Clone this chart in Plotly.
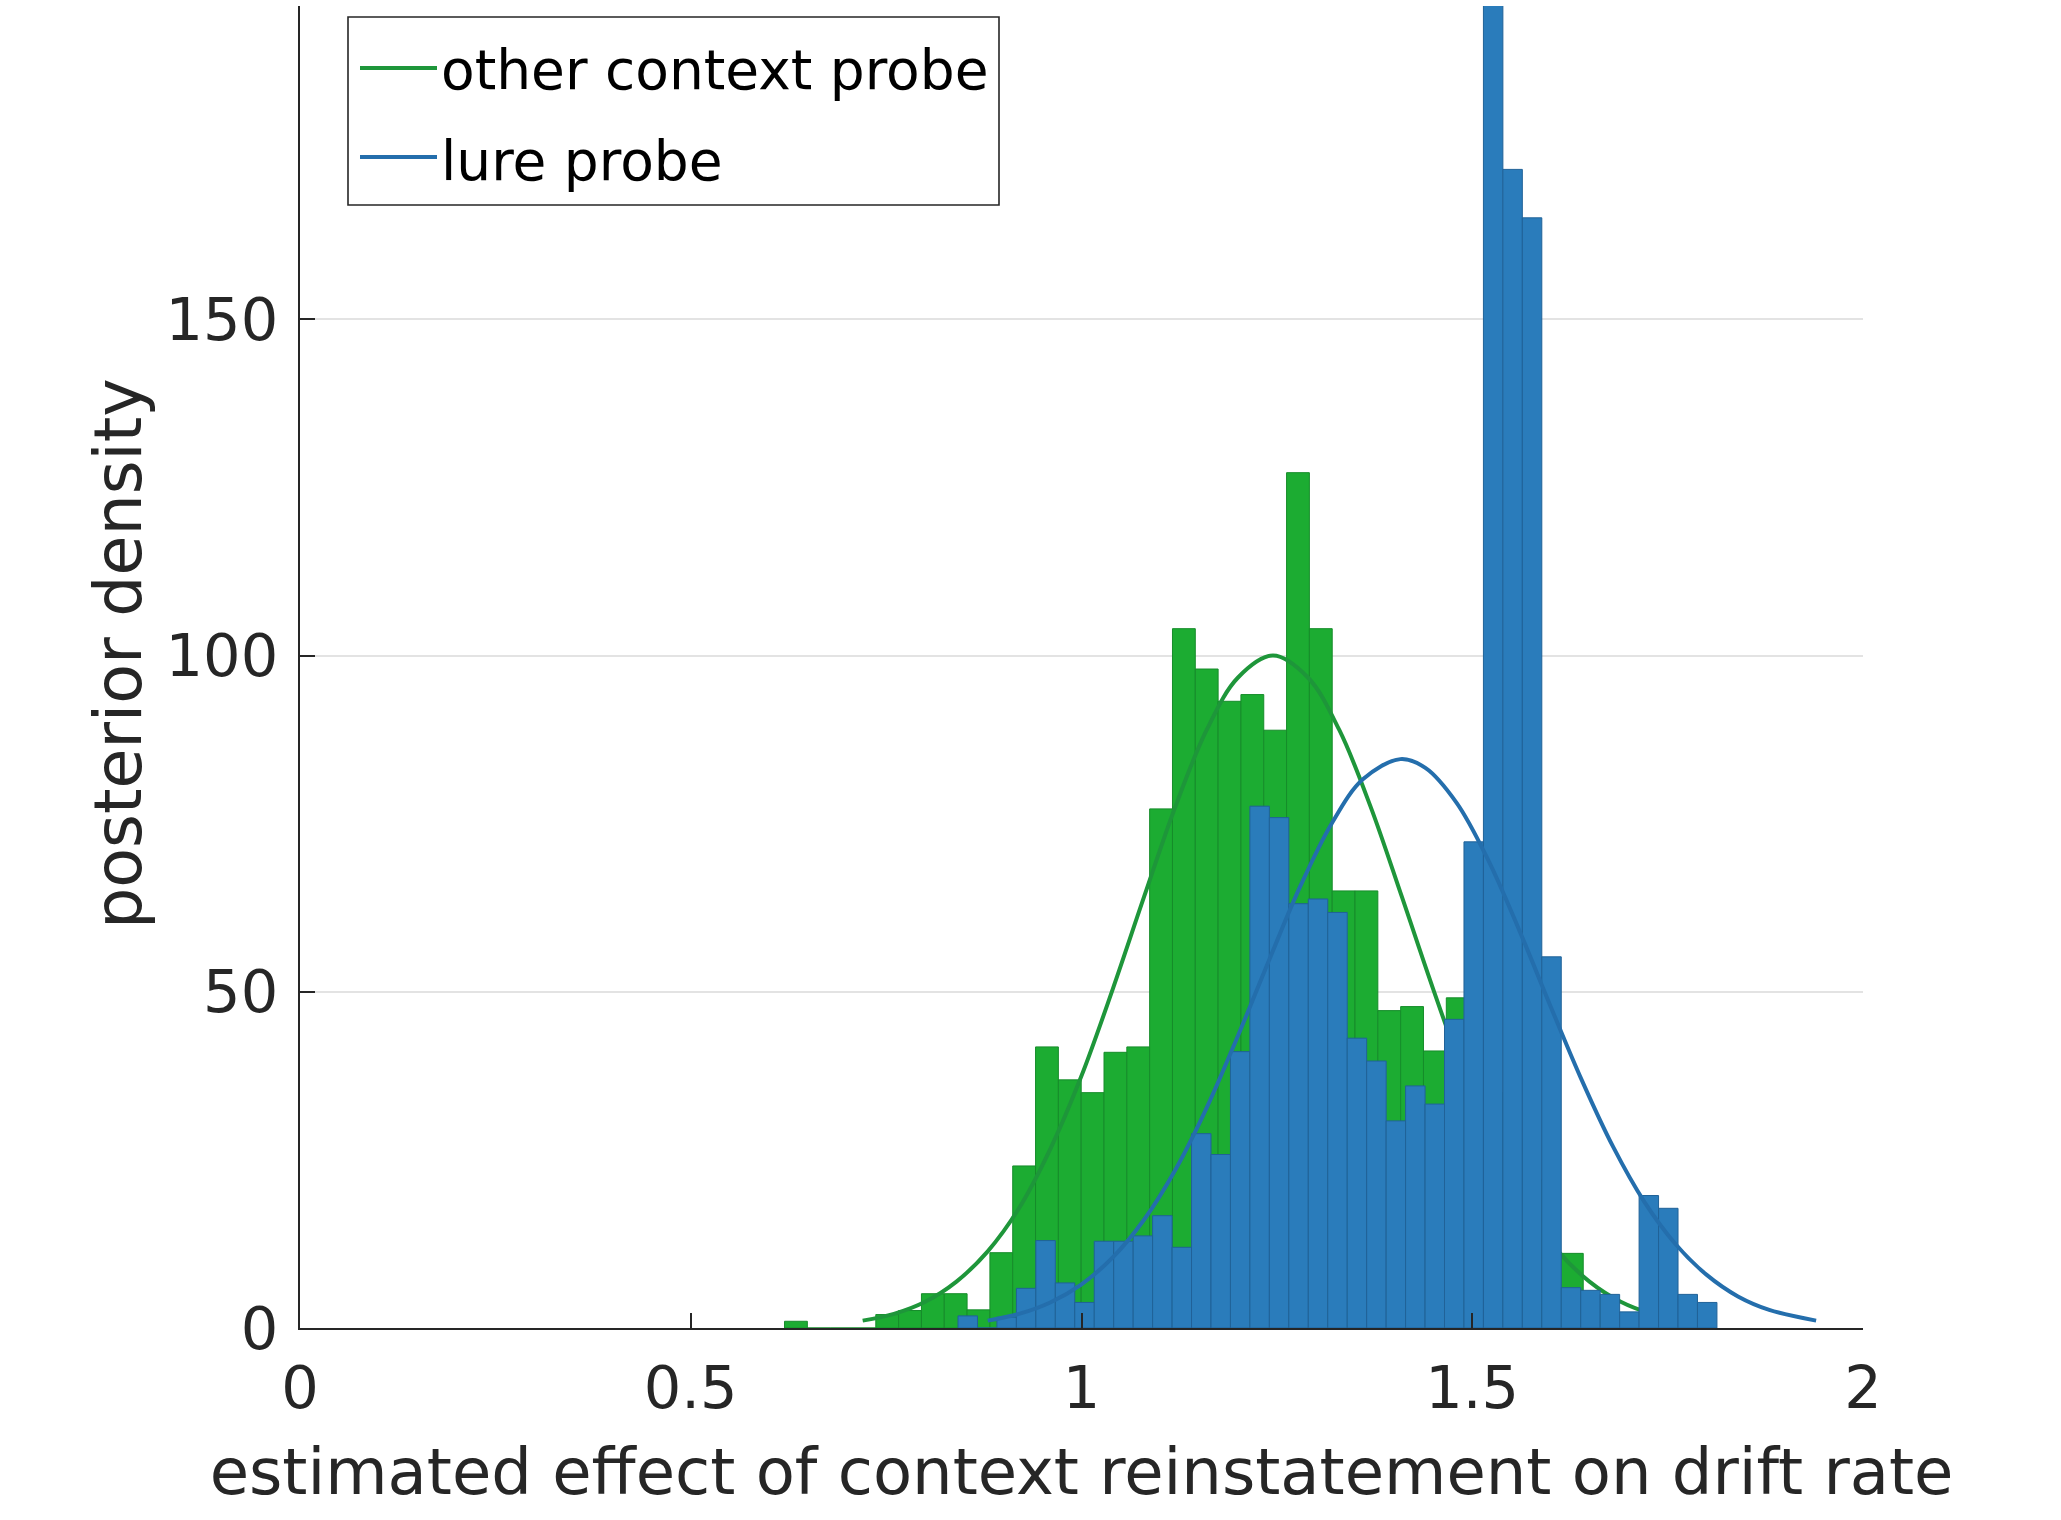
import plotly.graph_objects as go

# ---------------- data ----------------
# Histogram of posterior samples: "other context probe" (green)
green_bin_start = 0.620
green_bin_width = 0.0292
green_density = [1.0, 0.0, 0.0, 0.0, 2.0, 2.6, 5.1, 5.1, 2.7, 11.2,
                 24.1, 41.8, 36.9, 35.0, 41.0, 41.8, 77.2, 104.0, 98.0, 93.2,
                 94.2, 88.9, 127.2, 104.0, 65.0, 65.0, 47.2, 47.8, 41.2, 49.1,
                 40.0, 35.0, 28.0, 22.0, 11.1, 4.5, 2.0]

# Histogram of posterior samples: "lure probe" (blue)
blue_bin_start = 0.842
blue_bin_width = 0.0249
blue_density = [1.8, 0.0, 1.6, 5.9, 13.0, 6.7, 3.8, 12.9, 12.9, 13.7,
                16.7, 12.0, 28.9, 25.8, 41.1, 77.6, 75.9, 63.1, 63.8, 61.8,
                43.1, 39.7, 30.8, 36.0, 33.3, 45.9, 72.3, 230.0, 172.3, 165.1,
                55.2, 6.0, 5.6, 5.0, 2.4, 19.7, 17.8, 5.0, 3.8]

# Fitted density curves
green_curve_x = [0.72, 0.76, 0.80, 0.84, 0.88, 0.92, 0.96, 1.00, 1.04, 1.08,
                 1.12, 1.16, 1.20, 1.245, 1.29, 1.33, 1.37, 1.41, 1.45, 1.49,
                 1.53, 1.57, 1.61, 1.65, 1.69, 1.73, 1.77]
green_curve_y = [1.1, 2.1, 3.9, 6.9, 11.4, 17.8, 26.6, 37.5, 50.4, 64.1,
                 77.5, 88.9, 96.7, 100.0, 96.7, 88.9, 77.5, 64.1, 50.4, 37.5,
                 26.6, 17.8, 11.4, 6.9, 3.9, 2.1, 1.1]

blue_curve_x = [0.88, 0.92, 0.96, 1.00, 1.04, 1.08, 1.12, 1.16, 1.20, 1.24,
                1.28, 1.32, 1.36, 1.408, 1.44, 1.48, 1.52, 1.56, 1.60, 1.64,
                1.68, 1.72, 1.76, 1.80, 1.84, 1.88, 1.94]
blue_curve_y = [1.1, 2.1, 3.8, 6.5, 10.5, 16.1, 23.5, 32.7, 43.4, 54.7,
                65.7, 75.0, 81.6, 84.6, 83.3, 78.1, 69.7, 59.2, 47.9, 36.9,
                27.0, 18.8, 12.5, 7.9, 4.7, 2.7, 1.1]

series_names = ["other context probe", "lure probe"]
x_ticks = [0, 0.5, 1, 1.5, 2]
x_tick_labels = ["0", "0.5", "1", "1.5", "2"]
y_ticks = [0, 50, 100, 150]
y_tick_labels = ["0", "50", "100", "150"]
x_label = "estimated effect of context reinstatement on drift rate"
y_label = "posterior density"

# ---------------- styling ----------------
W, H = 2061, 1520
ML, MR, MT, MB = 300, 198, 6, 192
PW, PH = W - ML - MR, H - MT - MB
FONT = "DejaVu Sans"
TXT = "#262626"
GREEN_FILL = "rgb(28,172,50)"
GREEN_EDGE = "rgb(22,140,42)"
GREEN_LINE = "rgb(30,150,58)"
BLUE_FILL = "rgb(42,124,187)"
BLUE_EDGE = "rgb(32,98,152)"
BLUE_LINE = "rgb(36,110,172)"
Y_MAX = 196.6
LINE_W = 4


def px_x(px):
    return (px - ML) / PW


def px_y(py):
    return (H - MB - py) / PH


def centers(start, width, n):
    return [start + (k + 0.5) * width for k in range(n)]


fig = go.Figure()

# layer 1: green histogram + green curve
fig.add_trace(go.Bar(
    x=centers(green_bin_start, green_bin_width, len(green_density)),
    y=green_density, width=green_bin_width,
    marker=dict(color=GREEN_FILL, line=dict(color=GREEN_EDGE, width=1)),
    showlegend=False, hoverinfo="skip", xaxis="x", yaxis="y"))
fig.add_trace(go.Scatter(
    x=green_curve_x, y=green_curve_y, mode="lines", name=series_names[0],
    line=dict(color=GREEN_LINE, width=LINE_W, shape="spline"),
    showlegend=False, xaxis="x", yaxis="y"))

# layer 2 (drawn on top): blue histogram + blue curve
fig.add_trace(go.Bar(
    x=centers(blue_bin_start, blue_bin_width, len(blue_density)),
    y=blue_density, width=blue_bin_width,
    marker=dict(color=BLUE_FILL, line=dict(color=BLUE_EDGE, width=1)),
    showlegend=False, hoverinfo="skip", xaxis="x2", yaxis="y2"))
fig.add_trace(go.Scatter(
    x=blue_curve_x, y=blue_curve_y, mode="lines", name=series_names[1],
    line=dict(color=BLUE_LINE, width=LINE_W, shape="spline"),
    showlegend=False, xaxis="x2", yaxis="y2"))

axis_common = dict(showline=True, linecolor=TXT, linewidth=2, ticks="inside",
                   ticklen=15, tickwidth=2, tickcolor=TXT, zeroline=False,
                   tickfont=dict(family=FONT, size=59, color=TXT))

fig.update_layout(
    width=W, height=H,
    margin=dict(l=ML, r=MR, t=MT, b=MB, pad=0),
    paper_bgcolor="white", plot_bgcolor="white",
    barmode="overlay",
    showlegend=False,
    font=dict(family=FONT, color=TXT),
    xaxis=dict(range=[0, 2], tickvals=x_ticks, ticktext=x_tick_labels,
               showgrid=False, ticklabelstandoff=7,
               title=dict(text=x_label, standoff=28,
                          font=dict(family=FONT, size=64, color=TXT)),
               **axis_common),
    yaxis=dict(range=[0, Y_MAX], tickvals=y_ticks, ticktext=y_tick_labels,
               showgrid=True, gridcolor="#e3e3e3", gridwidth=1.5,
               ticklabelstandoff=8, **axis_common),
    xaxis2=dict(range=[0, 2], overlaying="x", visible=False),
    yaxis2=dict(range=[0, Y_MAX], overlaying="y", visible=False),
)

# y-axis title (centered on the full 0..200 axis, as in the reference)
fig.add_annotation(text=y_label, xref="paper", yref="paper",
                   x=px_x(118), y=px_y(654), textangle=-90, showarrow=False,
                   xanchor="center", yanchor="middle",
                   font=dict(family=FONT, size=65, color=TXT))

# legend box
fig.add_shape(type="rect", xref="paper", yref="paper",
              x0=px_x(348), x1=px_x(999), y0=px_y(205), y1=px_y(17),
              line=dict(color=TXT, width=1.6), fillcolor="white", layer="above")
for name, color, ly, ty in [(series_names[0], GREEN_LINE, 68, 70),
                            (series_names[1], BLUE_LINE, 157, 161)]:
    fig.add_shape(type="line", xref="paper", yref="paper",
                  x0=px_x(360), x1=px_x(437), y0=px_y(ly), y1=px_y(ly),
                  line=dict(color=color, width=LINE_W), layer="above")
    fig.add_annotation(text=name, xref="paper", yref="paper",
                       x=px_x(439), y=px_y(ty), showarrow=False,
                       xanchor="left", yanchor="middle",
                       font=dict(family=FONT, size=55, color="black"))

fig.write_html("out.html")
